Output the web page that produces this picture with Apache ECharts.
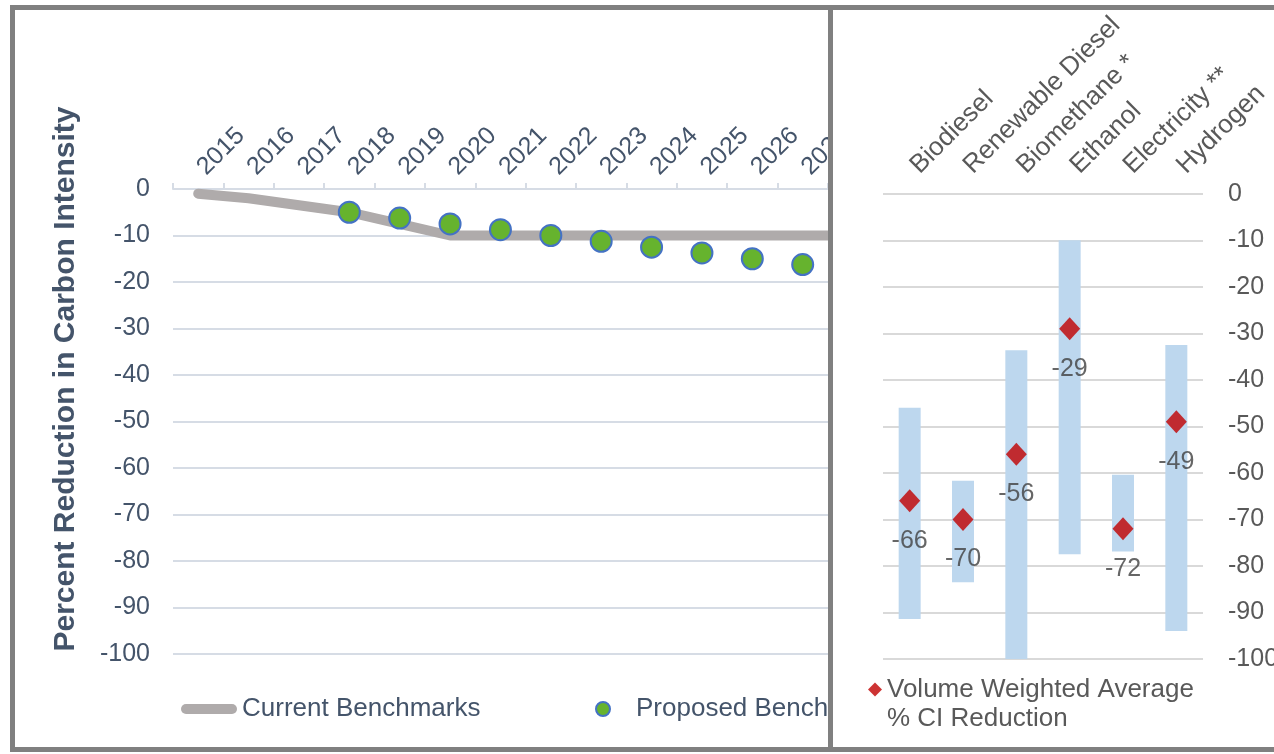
<!DOCTYPE html>
<html>
<head>
<meta charset="utf-8">
<script src="https://cdn.jsdelivr.net/npm/echarts@6/dist/echarts.min.js"></script>
<style>
html, body { margin: 0; padding: 0; background: #fff; overflow: hidden; width: 1274px; height: 754px; }
.frame { position: absolute; left: 10px; top: 5px; width: 1300px; height: 747px; border: 5px solid #808080; box-sizing: border-box; }
.divider { position: absolute; left: 828px; top: 5px; width: 5px; height: 747px; background: #808080; }
#leftPanel { position: absolute; left: 15px; top: 10px; width: 813px; height: 737px; overflow: hidden; }
#rightPanel { position: absolute; left: 833px; top: 10px; width: 441px; height: 737px; overflow: hidden; }
#benchmarks { width: 1000px; height: 737px; }
#fuels { width: 480px; height: 737px; }
</style>
</head>
<body>
<div class="frame"></div>
<div class="divider"></div>
<div id="leftPanel"><div id="benchmarks"></div></div>
<div id="rightPanel"><div id="fuels"></div></div>
<script>
// left chart: benchmark schedule
var years = ['2015','2016','2017','2018','2019','2020','2021','2022','2023','2024','2025','2026','2027','2028','2029','2030'];
var currentBenchmarks = [-1, -2, -3.5, -5, -7.5, -10, -10, -10, -10, -10, -10, -10, -10, -10, -10, -10];
var proposedBenchmarks = [null, null, null, -5, -6.25, -7.5, -8.75, -10, -11.25, -12.5, -13.75, -15, -16.25, -17.5, -18.75, -20];

// right chart: CI reduction range per fuel
var fuels = ['Biodiesel', 'Renewable Diesel', 'Biomethane *', 'Ethanol', 'Electricity **', 'Hydrogen'];
var rangeTop = [-46, -61.7, -33.6, -10, -60.4, -32.5];
var rangeBottom = [-91.4, -83.5, -100, -77.5, -76.9, -94];
var weightedAvg = [-66, -70, -56, -29, -72, -49];

var FONT = '"Liberation Sans", Arial, sans-serif';

function benchmarks(){
	var chart = echarts.init(document.getElementById('benchmarks'));
	var option = {
		animation: false,
		textStyle: { fontFamily: FONT },
		grid: { left: 158, top: 179, width: 806, height: 465 },
		legend: [
			{
				left: 161, top: 681,
				itemWidth: 56, itemHeight: 14, itemGap: 0,
				textStyle: { fontSize: 26, color: '#44546a', fontFamily: FONT },
				data: [{ name: 'Current Benchmarks', icon: 'path://M5,0 L51,0 A5,5 0 0 1 51,10 L5,10 A5,5 0 0 1 5,0 Z', itemStyle: { color: '#afabab' } }]
			},
			{
				left: 575, top: 681,
				itemWidth: 56, itemHeight: 14,
				textStyle: { fontSize: 26, color: '#44546a', fontFamily: FONT },
				data: [{ name: 'Proposed Benchmarks', icon: 'circle' }]
			}
		],
		graphic: [{
			type: 'text', x: 51, y: 369, rotation: Math.PI / 2,
			style: { text: 'Percent Reduction in Carbon Intensity', align: 'center', verticalAlign: 'middle',
				font: 'bold 30px ' + FONT, fill: '#44546a' }
		}],
		xAxis: {
			type: 'category',
			position: 'top',
			data: years,
			axisLine: { lineStyle: { color: '#d6dce5', width: 2 } },
			axisTick: { show: true, length: 6, lineStyle: { color: '#d6dce5', width: 2 } },
			axisLabel: { rotate: 45, margin: -3, padding: [0, 0, 0, 17], verticalAlign: 'bottom', fontSize: 25, color: '#44546a', interval: 0 }
		},
		yAxis: {
			type: 'value',
			min: -100, max: 0, interval: 10,
			axisLine: { show: false },
			axisTick: { show: false },
			axisLabel: { fontSize: 25, color: '#44546a', margin: 23 },
			splitLine: { lineStyle: { color: '#d6dce5', width: 2 } }
		},
		series: [
			{
				name: 'Current Benchmarks',
				type: 'line',
				data: currentBenchmarks,
				symbol: 'none',
				lineStyle: { color: '#afabab', width: 10, cap: 'round', join: 'round' },
				itemStyle: { color: '#afabab' },
				z: 2
			},
			{
				name: 'Proposed Benchmarks',
				type: 'scatter',
				data: proposedBenchmarks,
				symbol: 'circle',
				symbolSize: 21,
				itemStyle: { color: '#66b32e', borderColor: '#4472c4', borderWidth: 2, opacity: 1 },
				z: 3
			}
		]
	};
	chart.setOption(option);
}

function fuelRanges(){
	var chart = echarts.init(document.getElementById('fuels'));
	var spans = rangeTop.map(function(t, i){ return +(rangeBottom[i] - t).toFixed(2); });
	var option = {
		animation: false,
		textStyle: { fontFamily: FONT },
		grid: { left: 50, top: 182, width: 320, height: 467 },
		legend: {
			left: 30, top: 631,
			itemWidth: 14, itemHeight: 14, itemGap: 0,
			formatter: function(){ return ' \nVolume Weighted Average\n% CI Reduction'; },
			textStyle: { fontSize: 26, color: '#595959', lineHeight: 29, fontFamily: FONT },
			data: [{ name: 'Volume Weighted Average % CI Reduction', icon: 'diamond' }]
		},
		xAxis: {
			type: 'category',
			position: 'top',
			data: fuels,
			axisLine: { show: false },
			axisTick: { show: false },
			axisLabel: { rotate: 45, margin: 1, padding: [0, 0, 0, 20], verticalAlign: 'bottom', fontSize: 26, color: '#595959', interval: 0 }
		},
		yAxis: {
			type: 'value',
			position: 'right',
			min: -100, max: 0, interval: 10,
			axisLine: { show: false },
			axisTick: { show: false },
			axisLabel: { fontSize: 25, color: '#595959', margin: 25 },
			splitLine: { lineStyle: { color: '#d9d9d9', width: 2 } }
		},
		series: [
			{
				name: 'base',
				type: 'bar',
				stack: 'range',
				barWidth: 22,
				data: rangeTop,
				itemStyle: { color: 'rgba(0,0,0,0)' },
				silent: true
			},
			{
				name: 'CI range',
				type: 'bar',
				stack: 'range',
				barWidth: 22,
				data: spans,
				itemStyle: { color: '#bdd7ee' }
			},
			{
				name: 'Volume Weighted Average % CI Reduction',
				type: 'scatter',
				data: weightedAvg,
				symbol: 'diamond',
				symbolSize: [21, 23],
				itemStyle: { color: '#c00000' },
				label: { show: true, position: 'bottom', distance: 16, fontSize: 25, color: '#404040' },
				z: 5
			}
		]
	};
	chart.setOption(option);
}

benchmarks();
fuelRanges();
</script>
</body>
</html>
